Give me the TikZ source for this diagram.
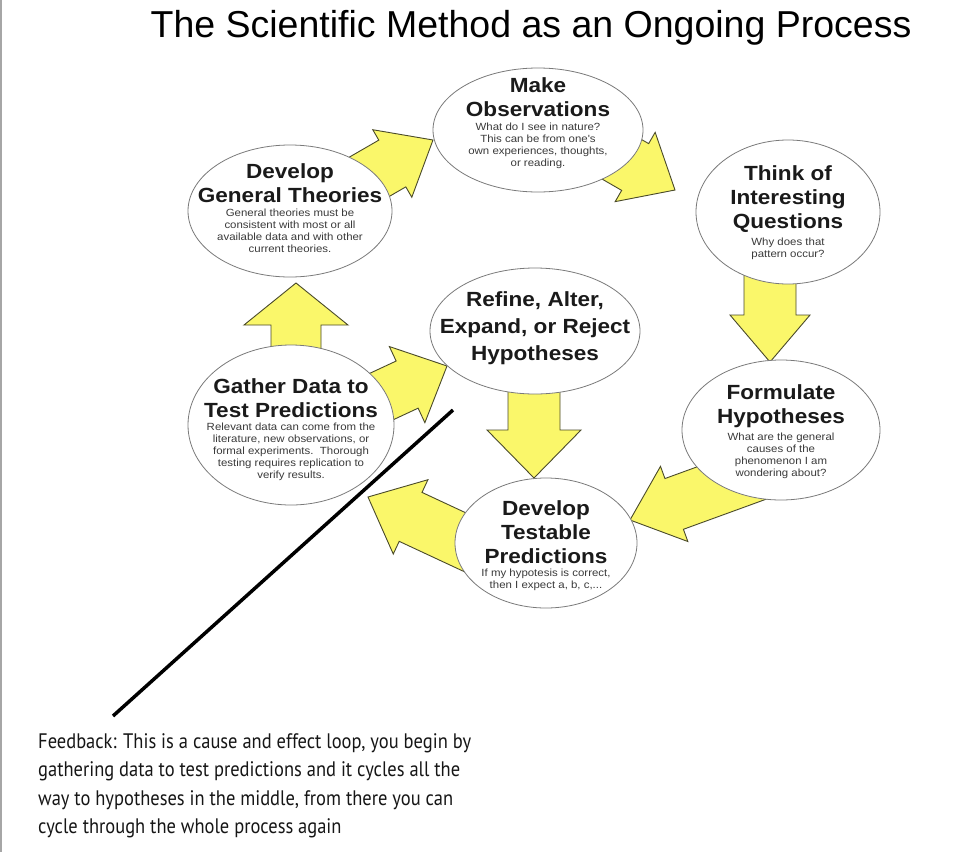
\documentclass[tikz,border=0pt]{standalone}
\usepackage{fontspec}
\setmainfont{Liberation Sans}
\newfontfamily\wide[FakeStretch=1.1]{Liberation Sans}
\newfontfamily\fbfont[FakeStretch=0.88]{PT Sans}
\usetikzlibrary{shapes.geometric,positioning}
\definecolor{ay}{HTML}{FAF76A}
\definecolor{ao}{HTML}{4A4A2A}
\definecolor{eo}{HTML}{7A7A7A}
\definecolor{st}{HTML}{3A3A3A}
\definecolor{tt}{HTML}{1A1A1A}
\definecolor{fbc}{HTML}{161616}
% block arrow: tip, angle, length, head length, half head width, half shaft width
\newcommand\blockarr[6]{%
  \draw[yarr, shift={(#1)}, rotate=#2] (0,0) -- (-#4,#5) -- (-#4,#6) -- (-#3,#6)
    -- (-#3,-#6) -- (-#4,-#6) -- (-#4,-#5) -- cycle;}
\tikzset{
  ell/.style={ellipse, draw=eo, fill=white, line width=0.8pt, inner sep=0pt},
  yarr/.style={draw=ao, fill=ay, line width=0.9pt, line join=miter},
  ttl/.style={align=center, inner sep=0pt, anchor=north, text=tt, font=\wide\fontsize{20.5}{24}\selectfont\bfseries},
  bdy/.style={align=center, inner sep=0pt, text=st, font=\wide\fontsize{10.4}{12}\selectfont},
}
\begin{document}
\begin{tikzpicture}[x=1pt, y=-1pt]
\useasboundingbox (0,0) rectangle (977,852);
\fill[white] (0,0) rectangle (977,852);
\draw[gray!70, line width=1.5pt] (1.2,0) -- (1.2,852);

% title
\node[anchor=base, inner sep=0pt, font=\fontsize{37.5}{40}\selectfont] (title) at (531,37)
  {The Scientific Method as an Ongoing Process};

% block arrows (under the ellipses)
\blockarr{433,140}{30}{130}{47}{39}{27}
\blockarr{675,190}{-30}{130}{46}{40}{27}
\blockarr{770,362}{-90}{100}{47}{40}{26}
\blockarr{630,520}{200}{140}{47}{40}{27}
\blockarr{368,497}{155}{130}{47}{41}{27}
\blockarr{296,283}{90}{110}{42}{52}{25}
\blockarr{447,366}{25}{120}{44}{42}{26}
\blockarr{534,478}{-90}{100}{48}{47}{26}

% ellipses
\node[ell, minimum width=210pt, minimum height=124pt] (obs) at (538,130) {};
\node[ell, minimum width=204pt, minimum height=132pt] (thy) at (290,211) {};
\node[ell, minimum width=184pt, minimum height=144pt] (que) at (788,212) {};
\node[ell, minimum width=210pt, minimum height=126pt] (ref) at (535,331) {};
\node[ell, minimum width=206pt, minimum height=160pt] (gat) at (291,425) {};
\node[ell, minimum width=198pt, minimum height=140pt] (frm) at (781,430) {};
\node[ell, minimum width=182pt, minimum height=130pt] (tst) at (546,543) {};

% texts
\node[ttl] (obsT) at (538,77) {Make\\Observations};
\node[bdy, below=6pt of obsT] (obsB) {What do I see in nature?\\This can be from one's\\own experiences, thoughts,\\or reading.};
\node[ttl] (thyT) at (290,163) {Develop\\General Theories};
\node[bdy, below=6pt of thyT] (thyB) {General theories must be\\consistent with most or all\\available data and with other\\current theories.};
\node[ttl] (queT) at (788,165) {Think of\\Interesting\\Questions};
\node[bdy, below=5pt of queT] (queB) {Why does that\\pattern occur?};
\node[ttl, font=\wide\fontsize{20.5}{27}\selectfont\bfseries] (refT) at (535,291) {Refine, Alter,\\Expand, or Reject\\Hypotheses};
\node[ttl] (gatT) at (291,378) {Gather Data to\\Test Predictions};
\node[bdy, below=5pt of gatT] (gatB) {Relevant data can come from the\\literature, new observations, or\\formal experiments.\ \ Thorough\\testing requires replication to\\verify results.};
\node[ttl] (frmT) at (781,384) {Formulate\\Hypotheses};
\node[bdy, below=5pt of frmT] (frmB) {What are the general\\causes of the\\phenomenon I am\\wondering about?};
\node[ttl] (tstT) at (546,500) {Develop\\Testable\\Predictions};
\node[bdy, below=5pt of tstT] (tstB) {If my hypotesis is correct,\\then I expect a, b, c,...};

% feedback pointer line
\coordinate (fbA) at (113,716);
\coordinate (fbB) at (453,410);
\draw[black, line width=3.5pt] (fbA) -- (fbB);

% feedback text
\node[anchor=north west, align=left, inner sep=0pt, text=fbc,
  font=\fbfont\fontsize{21}{28.5}\selectfont] (fb) at (38,733)
  {Feedback: This is a cause and effect loop, you begin by\\
   gathering data to test predictions and it cycles all the\\
   way to hypotheses in the middle, from there you can\\
   cycle through the whole process again};
\end{tikzpicture}
\end{document}
